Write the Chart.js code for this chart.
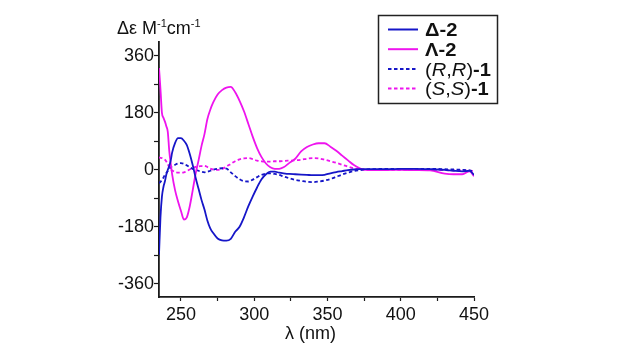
<!DOCTYPE html>
<html>
<head>
<meta charset="utf-8">
<script src="https://cdn.jsdelivr.net/npm/chart.js@4/dist/chart.umd.min.js"></script>
<style>
  html, body { margin: 0; padding: 0; background: #fff; }
  #wrap { width: 640px; height: 355px; }
</style>
</head>
<body>
<div id="wrap"><canvas id="c" width="640" height="355"></canvas></div>
<script>
// ---- data ----
const wavelengths = [235,236,237,238,239,240,241,242,243,244,246,248,250,252,254,256,258,260,262,264,266,268,270,272,275,278,281,284,287,290,293,296,299,302,305,308,311,314,317,320,324,328,332,336,340,344,348,352,356,360,364,368,372,376,380,390,400,410,420,430,436,442,447,450];

const deltaTwo = [-268,-150,-85,-55,-37,-15,0,12,30,55,85,100,100,92,78,50,15,-25,-60,-95,-125,-160,-185,-200,-217,-223,-224,-218,-196,-180,-150,-115,-84,-55,-30,-14,-6,-6,-9,-11,-13,-14,-15,-16,-17,-17,-16,-11,-7,-4,-1,1,2,2,2,2,3,3,2,0,-3,-5,-3,-16];

const lambdaTwo = [322,255,180,165,153,138,120,60,20,-15,-65,-100,-130,-157,-150,-115,-65,-12,30,75,112,160,190,213,238,252,260,262,245,218,185,145,104,68,40,20,8,3,3,8,22,35,58,72,80,84,84,73,60,45,30,15,5,0,-1,-1,0,-1,-2,-12,-14,-14,-5,-20];

const rrOne = [-42,-38,-32,-25,-16,-10,-4,3,8,11,16,20,21,19,14,8,3,0,-3,-6,-8,-6,-3,0,3,5,4,-8,-20,-30,-36,-37,-31,-23,-16,-12,-11,-13,-16,-21,-27,-32,-35,-38,-39,-37,-34,-29,-22,-15,-9,-4,-1,1,2,3,3,3,3,2,1,0,-2,-6];

const ssOne = [39,38,37,35,32,26,18,8,2,-2,-7,-9,-9,-8,-4,1,5,9,11,12,13,9,4,1,0,3,10,19,27,33,36,37,34,29,27,26,26,27,27,28,29,30,32,35,37,36,32,27,22,16,10,5,2,0,0,0,0,0,0,-1,-2,-2,-3,-4];

const yTicks = [-360,-270,-180,-90,0,90,180,270,360];
const xTicks = [250,275,300,325,350,375,400,425,450];
const legendLabels = ['Δ-2','Λ-2','(R,R)-1','(S,S)-1'];

const BLUE = '#1616C8';
const MAGENTA = '#EE14EE';
const AXIS = '#1a1a1a';
const FONT = "'Liberation Sans', Arial, sans-serif";

function pts(vals){ return wavelengths.map((x,i)=>({x:x, y:vals[i]})); }

// legend rich-text segments (style per piece)
const legendRich = [
  [['Δ-2', 'normal', 'bold']],
  [['Λ-2', 'normal', 'bold']],
  [['(', 'normal','normal'], ['R','italic','normal'], [',','normal','normal'], ['R','italic','normal'], [')','normal','normal'], ['-1','normal','bold']],
  [['(', 'normal','normal'], ['S','italic','normal'], [',','normal','normal'], ['S','italic','normal'], [')','normal','normal'], ['-1','normal','bold']]
];

const overlay = {
  id: 'overlay',
  afterDraw(chart){
    const ctx = chart.ctx;
    const ca = chart.chartArea;
    ctx.save();
    ctx.fillStyle = '#111';
    ctx.textBaseline = 'alphabetic';
    // y axis title (horizontal, top-left)
    let x = 117, yb = 34;
    const seg = (t, size, dy) => {
      ctx.font = size + 'px ' + FONT;
      ctx.fillText(t, x, yb + dy);
      x += ctx.measureText(t).width;
    };
    seg('Δε M', 18, 0);
    seg('-1', 11, -7);
    seg('cm', 18, 0);
    seg('-1', 11, -7);
    // x axis title
    ctx.font = '18px ' + FONT;
    ctx.textAlign = 'center';
    ctx.fillText('λ (nm)', (ca.left + ca.right)/2 - 6, 339);
    ctx.textAlign = 'left';

    // legend box
    const bx = 378.5, by = 15.5, bw = 119, bh = 88;
    ctx.strokeStyle = '#222';
    ctx.lineWidth = 1.5;
    ctx.strokeRect(bx, by, bw, bh);
    const ds = chart.data.datasets;
    for (let i = 0; i < ds.length; i++) {
      const ry = 29.5 + i * 19.7;
      ctx.beginPath();
      ctx.strokeStyle = ds[i].borderColor;
      ctx.lineWidth = 2;
      ctx.setLineDash(ds[i].borderDash || []);
      ctx.moveTo(388, ry);
      ctx.lineTo(418, ry);
      ctx.stroke();
      ctx.setLineDash([]);
      ctx.fillStyle = '#111';
      ctx.save();
      ctx.translate(425, ry + 6.8);
      ctx.scale(1.06, 1);
      let tx = 0;
      for (const [t, st, wt] of legendRich[i]) {
        ctx.font = st + ' ' + wt + ' 19px ' + FONT;
        ctx.fillText(t, tx, 0);
        tx += ctx.measureText(t).width;
      }
      ctx.restore();
    }
    ctx.restore();
  }
};

new Chart(document.getElementById('c'), {
  type: 'line',
  data: {
    datasets: [
      { label: legendLabels[0], data: pts(deltaTwo), borderColor: BLUE, borderWidth: 1.8 },
      { label: legendLabels[1], data: pts(lambdaTwo), borderColor: MAGENTA, borderWidth: 1.8 },
      { label: legendLabels[2], data: pts(rrOne), borderColor: BLUE, borderWidth: 1.8, borderDash: [3.5, 2.5] },
      { label: legendLabels[3], data: pts(ssOne), borderColor: MAGENTA, borderWidth: 1.8, borderDash: [3.5, 2.5] }
    ]
  },
  options: {
    responsive: false,
    animation: false,
    devicePixelRatio: 1,
    layout: { padding: { left: 0, right: 166, top: 42, bottom: 0 } },
    elements: { point: { radius: 0 }, line: { cubicInterpolationMode: 'monotone', fill: false } },
    plugins: { legend: { display: false }, tooltip: { enabled: false }, title: { display: false } },
    scales: {
      x: {
        type: 'linear', min: 235, max: 450,
        afterBuildTicks(s){ s.ticks = xTicks.map(v => ({value: v})); },
        afterFit(s){ s.height = 58; },
        border: { display: true, color: AXIS, width: 1.8 },
        grid: { display: true, drawOnChartArea: false, drawTicks: true, tickLength: 4, tickColor: AXIS, tickWidth: 1.2 },
        ticks: {
          autoSkip: false, maxRotation: 0, padding: 3, color: '#111',
          font: { family: FONT, size: 18 },
          callback: v => (v % 50 === 0 ? String(v) : '')
        }
      },
      y: {
        type: 'linear', min: -402, max: 404,
        afterBuildTicks(s){ s.ticks = yTicks.map(v => ({value: v})); },
        afterFit(s){ s.width = 159; },
        border: { display: true, color: AXIS, width: 1.8 },
        grid: { display: true, drawOnChartArea: false, drawTicks: true, tickLength: 5, tickColor: AXIS, tickWidth: 1.2 },
        ticks: {
          autoSkip: false, padding: 0, color: '#111',
          font: { family: FONT, size: 18 },
          callback: v => (v % 180 === 0 ? String(v) : '')
        }
      }
    }
  },
  plugins: [overlay]
});
</script>
</body>
</html>
